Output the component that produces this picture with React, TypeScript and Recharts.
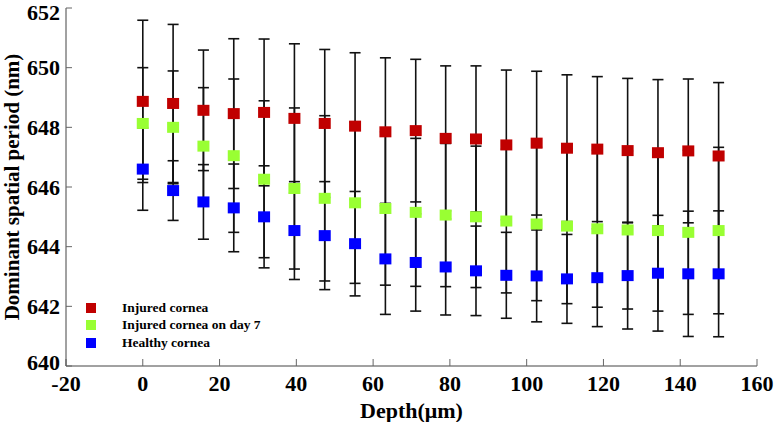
import { ScatterChart, Scatter, XAxis, YAxis, ErrorBar, Legend, Label } from "recharts";

const depth = [0, 7.9, 15.8, 23.7, 31.6, 39.5, 47.4, 55.3, 63.2, 71.1, 78.9, 86.8, 94.7, 102.6, 110.5, 118.4, 126.3, 134.2, 142.1, 150];

const injured = [648.87, 648.8, 648.57, 648.46, 648.5, 648.3, 648.13, 648.04, 647.85, 647.89, 647.63, 647.61, 647.41, 647.47, 647.3, 647.27, 647.22, 647.15, 647.21, 647.04];
const injuredErr = [2.72, 2.65, 2.02, 2.51, 2.46, 2.5, 2.48, 2.46, 2.48, 2.39, 2.43, 2.45, 2.51, 2.41, 2.46, 2.43, 2.42, 2.45, 2.41, 2.46];

const day7 = [648.13, 648.0, 647.37, 647.05, 646.26, 645.95, 645.62, 645.47, 645.28, 645.15, 645.06, 645.0, 644.86, 644.76, 644.69, 644.6, 644.56, 644.54, 644.48, 644.54];
const day7Err = [1.87, 1.89, 1.96, 2.57, 2.63, 2.7, 2.77, 2.7, 2.57, 2.48, 2.4, 2.37, 2.41, 2.57, 2.6, 2.63, 2.65, 2.7, 2.75, 2.79];

const healthy = [646.6, 645.88, 645.5, 645.3, 645.0, 644.54, 644.37, 644.1, 643.59, 643.47, 643.32, 643.19, 643.04, 643.02, 642.92, 642.96, 643.03, 643.11, 643.09, 643.09];
const healthyErr = [1.38, 1.0, 1.25, 1.47, 1.71, 1.64, 1.81, 1.75, 1.86, 1.63, 1.61, 1.5, 1.44, 1.54, 1.49, 1.64, 1.79, 1.94, 2.1, 2.11];

const xTicks = [-20, 0, 20, 40, 60, 80, 100, 120, 140, 160];
const yTicks = [640, 642, 644, 646, 648, 650, 652];

const series = [
  { name: "Injured cornea", color: "#c00000", mean: injured, err: injuredErr },
  { name: "Injured cornea on day 7", color: "#99ff33", mean: day7, err: day7Err },
  { name: "Healthy cornea", color: "#0000ff", mean: healthy, err: healthyErr },
];

const rows = (mean: number[], err: number[]) => depth.map((d, i) => ({ x: d, y: mean[i], err: err[i] }));

const square = (color: string) => (props: any) => (
  <rect x={props.cx - 6} y={props.cy - 5.5} width={12} height={11} fill={color} />
);

const font = "Liberation Serif, Times New Roman, serif";
const frame = "#444";

// y tick labels; the end ones nudged inward so they stay clear of the edge and the x labels
const YTick = (props: any) => {
  const { x, y, payload } = props;
  const yy = Math.min(Math.max(y, 12), 362);
  return (
    <text x={x} y={yy} dy="0.35em" textAnchor="end" fill="#000" fontSize={22} fontWeight={700} fontFamily={font}>
      {payload.value}
    </text>
  );
};

const XTick = (props: any) => {
  const { x, y, payload } = props;
  return (
    <text x={x} y={y} dy="0.72em" textAnchor="middle" fill="#000" fontSize={22} fontWeight={700} fontFamily={font}>
      {payload.value}
    </text>
  );
};

const LegendBox = () => (
  <div style={{ fontFamily: font, fontWeight: 700, fontSize: 13.5 }}>
    {series.map((s) => (
      <div key={s.name} style={{ display: "flex", alignItems: "center", height: 17.5 }}>
        <span style={{ width: 10, height: 10, background: s.color, display: "inline-block" }} />
        <span style={{ marginLeft: 26 }}>{s.name}</span>
      </div>
    ))}
  </div>
);

export default function App() {
  return (
    <div style={{ position: "absolute", left: 0, top: 0, width: 774, height: 422, background: "#fff" }}>
      <ScatterChart width={774} height={422} margin={{ top: 8, right: 17, bottom: 0, left: 0 }}>
        <XAxis
          type="number"
          dataKey="x"
          domain={[-20, 160]}
          ticks={xTicks}
          interval={0}
          height={56}
          tick={<XTick />}
          tickSize={-7}
          tickMargin={16}
          tickLine={{ stroke: "#666" }}
          axisLine={{ stroke: frame }}
        >
          <Label
            value="Depth(μm)"
            position="insideBottom"
            offset={4}
            style={{ fill: "#000", fontSize: 22, fontWeight: 700, fontFamily: font }}
          />
        </XAxis>
        <XAxis
          xAxisId="top"
          orientation="top"
          type="number"
          domain={[-20, 160]}
          ticks={xTicks}
          height={0}
          tickSize={-7}
          tickFormatter={() => ""}
          tickLine={{ stroke: "#666" }}
          axisLine={{ stroke: frame }}
        />
        <YAxis
          type="number"
          dataKey="y"
          domain={[640, 652]}
          ticks={yTicks}
          interval={0}
          width={66}
          tick={<YTick />}
          tickSize={-6}
          tickMargin={12}
          tickLine={{ stroke: "#666" }}
          axisLine={{ stroke: frame }}
        >
          <Label
            value="Dominant spatial period (nm)"
            angle={-90}
            position="insideLeft"
            offset={12}
            style={{ textAnchor: "middle", fill: "#000", fontSize: 21, fontWeight: 700, fontFamily: font }}
          />
        </YAxis>
        <YAxis
          yAxisId="right"
          orientation="right"
          type="number"
          domain={[640, 652]}
          ticks={yTicks}
          width={0}
          tickSize={-6}
          tickFormatter={() => ""}
          tickLine={{ stroke: "#666" }}
          axisLine={{ stroke: frame }}
        />
        <Legend
          layout="vertical"
          align="center"
          verticalAlign="middle"
          wrapperStyle={{ left: 86, top: 299, width: 240 }}
          content={() => <LegendBox />}
        />
        {series.map((s) => (
          <Scatter
            key={s.name}
            name={s.name}
            data={rows(s.mean, s.err)}
            fill={s.color}
            shape={square(s.color)}
            isAnimationActive={false}
          >
            <ErrorBar dataKey="err" direction="y" width={5.5} strokeWidth={1.6} stroke="#111" />
          </Scatter>
        ))}
      </ScatterChart>
    </div>
  );
}
